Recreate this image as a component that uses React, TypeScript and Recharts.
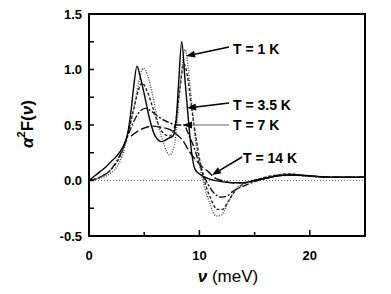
import { LineChart, Line, XAxis, YAxis, ReferenceArea, ReferenceLine } from 'recharts';

// nu (meV) and alpha^2 F(nu) for each curve
const solidNu = [0, 0.5, 1, 1.5, 2, 2.5, 3, 3.5, 3.8, 4.0, 4.35, 4.6, 5.0, 5.5, 6.0, 6.6, 7.2, 7.6, 7.9, 8.1, 8.4, 8.7, 9.0, 9.3, 9.6, 10.0, 10.5, 11, 12, 13, 14, 15, 16, 17, 18, 19, 20, 22, 25];
const solidVal = [0, 0.04, 0.08, 0.12, 0.17, 0.22, 0.29, 0.42, 0.62, 0.8, 1.03, 0.95, 0.78, 0.55, 0.4, 0.35, 0.38, 0.4, 0.55, 0.85, 1.25, 0.9, 0.55, 0.25, 0.1, 0.06, 0.03, 0.01, -0.01, -0.02, -0.02, 0.0, 0.02, 0.04, 0.05, 0.05, 0.04, 0.03, 0.03];

const t1Nu = [0, 1, 2, 2.5, 3, 3.5, 4, 4.5, 4.9, 5.3, 5.8, 6.3, 6.8, 7.3, 7.7, 8.0, 8.3, 8.7, 9.0, 9.3, 9.6, 10.0, 10.5, 11.0, 11.5, 12.0, 12.5, 13, 13.5, 14, 15, 16, 17, 18, 19, 20, 22, 25];
const t1Val = [0, 0.02, 0.07, 0.12, 0.22, 0.4, 0.62, 0.88, 1.01, 0.95, 0.75, 0.5, 0.32, 0.23, 0.3, 0.55, 0.9, 1.18, 1.0, 0.7, 0.4, 0.15, -0.07, -0.22, -0.32, -0.31, -0.22, -0.12, -0.06, -0.03, 0.0, 0.03, 0.05, 0.06, 0.05, 0.04, 0.03, 0.03];

const t35Nu = [0, 1, 2, 2.5, 3, 3.5, 4, 4.5, 4.8, 5.2, 5.8, 6.3, 6.8, 7.3, 7.8, 8.2, 8.6, 8.9, 9.3, 9.7, 10.1, 10.6, 11.1, 11.6, 12.1, 12.6, 13.2, 14, 15, 16, 17, 18, 20, 22, 25];
const t35Val = [0, 0.03, 0.1, 0.16, 0.26, 0.42, 0.62, 0.82, 0.88, 0.82, 0.65, 0.5, 0.42, 0.4, 0.5, 0.8, 1.05, 0.95, 0.65, 0.38, 0.15, -0.05, -0.18, -0.26, -0.26, -0.19, -0.1, -0.03, 0.0, 0.03, 0.05, 0.06, 0.04, 0.03, 0.03];

const t7Nu = [0, 1, 2, 3, 3.5, 4, 4.5, 5.1, 5.7, 6.5, 7.3, 8.0, 8.6, 9.0, 9.5, 10, 10.5, 11, 11.5, 12, 12.5, 13, 14, 15, 16, 17, 18, 20, 22, 25];
const t7Val = [0, 0.03, 0.1, 0.27, 0.4, 0.52, 0.61, 0.65, 0.62, 0.56, 0.52, 0.5, 0.5, 0.42, 0.3, 0.15, 0.02, -0.07, -0.13, -0.15, -0.14, -0.1, -0.05, -0.01, 0.02, 0.04, 0.05, 0.04, 0.03, 0.03];

const t14Nu = [3.8, 4.5, 5.2, 5.8, 6.5, 7.3, 8, 8.5, 9.1, 9.7, 10.3, 10.8, 11.3, 12, 13, 14, 15, 16, 17, 18, 20, 22, 25];
const t14Val = [0.4, 0.45, 0.48, 0.49, 0.48, 0.46, 0.41, 0.36, 0.26, 0.18, 0.12, 0.08, 0.03, 0.0, -0.02, -0.02, 0.0, 0.02, 0.04, 0.05, 0.04, 0.03, 0.03];

const xTicks = [0, 5, 10, 15, 20];
const xLabelled = [0, 10, 20];
const yTicks = [-0.5, -0.25, 0, 0.25, 0.5, 0.75, 1, 1.25, 1.5];

const toPoints = (nu: number[], v: number[]) => nu.map((n, i) => ({ nu: n, v: v[i] }));

const FONT = '"Liberation Sans", Arial, sans-serif';

const XTick = ({ x, y, payload }: any) => {
  const major = xLabelled.includes(payload.value);
  return (
    <g>
      <line x1={x} y1={y} x2={x} y2={y - (major ? 6 : 4)} stroke="#000" strokeWidth={1.5} />
      {major && (
        <text x={x} y={y + 24} textAnchor="middle" fontSize={13} fontWeight="bold" fontFamily={FONT} fill="#000">
          {payload.value}
        </text>
      )}
    </g>
  );
};

const YTick = ({ x, y, payload }: any) => {
  const major = Math.abs(payload.value * 2 - Math.round(payload.value * 2)) < 1e-6;
  return (
    <g>
      <line x1={x} y1={y} x2={x + 5} y2={y} stroke="#000" strokeWidth={1.5} />
      {major && (
        <text x={x - 7} y={y + 4.5} textAnchor="end" fontSize={13} fontWeight="bold" fontFamily={FONT} fill="#000">
          {payload.value.toFixed(1)}
        </text>
      )}
    </g>
  );
};

const Arrow = ({ x1, y1, x2, y2, color = '#000' }: any) => {
  const a = Math.atan2(y2 - y1, x2 - x1);
  const len = 9;
  const w = 3.5;
  const bx = x2 - len * Math.cos(a);
  const by = y2 - len * Math.sin(a);
  const px = -Math.sin(a) * w;
  const py = Math.cos(a) * w;
  return (
    <g>
      <line x1={x1} y1={y1} x2={bx} y2={by} stroke={color} strokeWidth={1.5} />
      <polygon points={`${x2},${y2} ${bx + px},${by + py} ${bx - px},${by - py}`} fill="#000" />
    </g>
  );
};

export default function App() {
  const annot = { fontSize: 14, fontWeight: 'bold', fontFamily: FONT, fill: '#000' } as const;
  return (
    <div style={{ position: 'relative', width: 383, height: 286 }}>
      <LineChart width={383} height={286} margin={{ top: 6, right: 26, left: 0, bottom: 0 }}>
        <XAxis
          dataKey="nu"
          type="number"
          domain={[0, 25]}
          ticks={xTicks}
          interval={0}
          height={58}
          tickSize={0}
          tickMargin={0}
          axisLine={false}
          tick={<XTick />}
          allowDuplicatedCategory={false}
        />
        <YAxis
          type="number"
          domain={[-0.5, 1.5]}
          ticks={yTicks}
          interval={0}
          width={81}
          tickSize={0}
          tickMargin={0}
          axisLine={false}
          tick={<YTick />}
        />
        <ReferenceLine y={0} stroke="#777" strokeWidth={1} strokeDasharray="1 2" />
        <Line data={toPoints(t14Nu, t14Val)} dataKey="v" type="monotone" stroke="#111" strokeWidth={1.4} strokeDasharray="9 3" dot={false} isAnimationActive={false} />
        <Line data={toPoints(t7Nu, t7Val)} dataKey="v" type="monotone" stroke="#111" strokeWidth={1.4} strokeDasharray="7 2 2 2" dot={false} isAnimationActive={false} />
        <Line data={toPoints(t35Nu, t35Val)} dataKey="v" type="monotone" stroke="#222" strokeWidth={1.4} strokeDasharray="3 2" dot={false} isAnimationActive={false} />
        <Line data={toPoints(t1Nu, t1Val)} dataKey="v" type="monotone" stroke="#444" strokeWidth={1.4} strokeDasharray="1 1.5" dot={false} isAnimationActive={false} />
        <Line data={toPoints(solidNu, solidVal)} dataKey="v" type="monotone" stroke="#000" strokeWidth={1.4} dot={false} isAnimationActive={false} />
        <ReferenceArea x1={0} x2={25} y1={-0.5} y2={1.5} fill="none" fillOpacity={0} stroke="#000" strokeWidth={2} />
      </LineChart>
      <svg width={383} height={286} style={{ position: 'absolute', left: 0, top: 0, pointerEvents: 'none' }}>
        <Arrow x1={221} y1={39} x2={178} y2={48} />
        <text x={225} y={46} {...annot}>T = 1 K</text>
        <Arrow x1={221} y1={95} x2={179} y2={100} />
        <text x={225} y={102} {...annot}>T = 3.5 K</text>
        <Arrow x1={221} y1={117} x2={175} y2={117} color="#999" />
        <text x={225} y={122} {...annot}>T = 7 K</text>
        <Arrow x1={234} y1={149} x2={204} y2={167} />
        <text x={235} y={155} {...annot}>T = 14 K</text>
        <text x={220} y={274} textAnchor="middle" fontSize={17} fontFamily={FONT} fill="#000">
          <tspan fontStyle="italic" fontWeight="bold">ν</tspan> (meV)
        </text>
        <text
          x={19}
          y={116}
          transform="rotate(-90 19 116)"
          textAnchor="middle"
          dominantBaseline="central"
          fontSize={17}
          fontWeight="bold"
          fontFamily={FONT}
          fill="#000"
        >
          <tspan fontStyle="italic">α</tspan>
          <tspan dy={-6} fontSize={11}>2</tspan>
          <tspan dy={6}>F(</tspan>
          <tspan fontStyle="italic">ν</tspan>
          <tspan>)</tspan>
        </text>
      </svg>
    </div>
  );
}
